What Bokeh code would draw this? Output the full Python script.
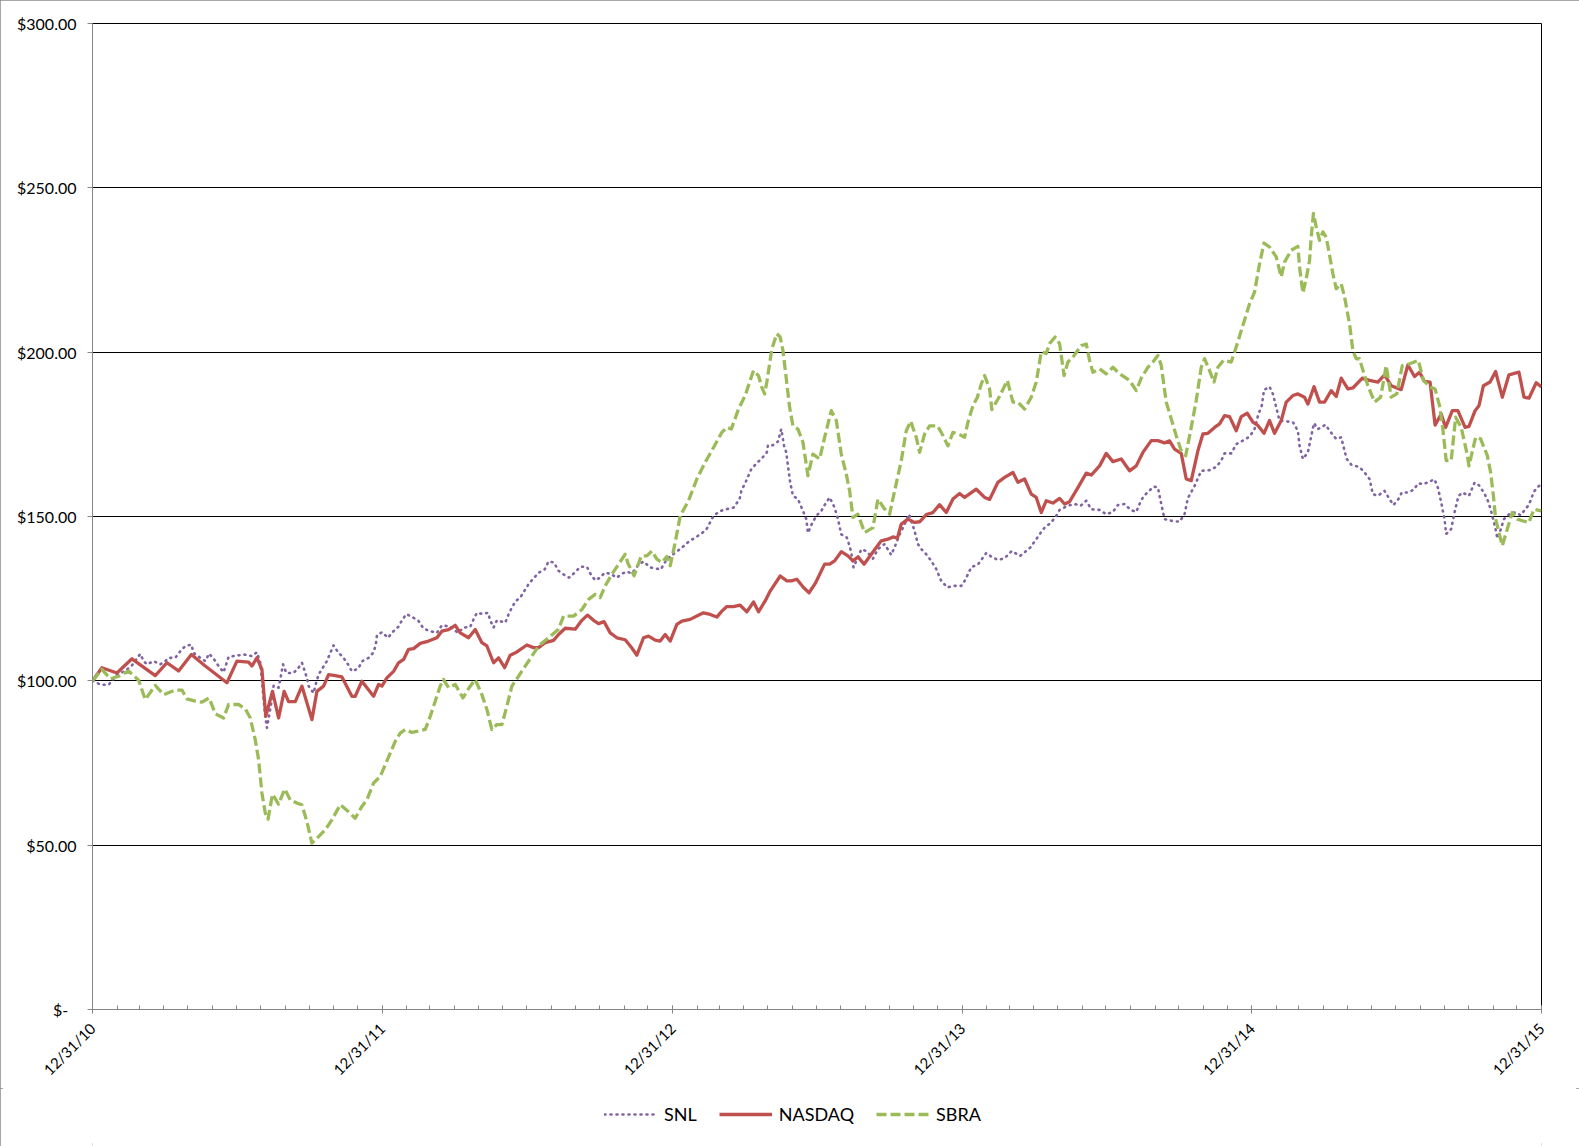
import numpy as np
import pandas as pd
from math import pi
from bokeh.plotting import figure
from bokeh.layouts import column
from bokeh.models import (Range1d, FixedTicker, DatetimeTickFormatter, Legend,
                          LegendItem, ColumnDataSource)
from bokeh.embed import file_html
from bokeh.resources import INLINE

START = "2010-12-31"

# ---- data (week = weeks after 12/31/10, value in $) ----
snl_week = [0, 1.5, 2.9, 4.4, 5.9, 7.1, 8.6, 9.2, 9.8, 11, 12.2, 13.1, 13.7, 14.9, 15.8, 16.7, 17.8, 18.2,
            19.4, 20.3, 21, 21.9, 22.7, 23.6, 24.5, 26, 27.4, 28.7, 29.6, 30.2, 31.1, 31.4, 32.3, 32.6, 33.5,
            33.8, 34.3, 34.9, 36.2, 37.1, 37.7, 38.2, 38.6, 38.9, 39.8, 40.1, 40.7, 42.2, 42.8, 43.4, 44.2,
            45.2, 46, 46.7, 47.8, 48.6, 49.7, 50.6, 51, 51.2, 52.1, 53.2, 54, 55.1, 55.7, 56.5, 57.5, 58.7,
            59.6, 60.8, 62, 62.9, 64.4, 65.8, 66.8, 68, 68.6, 69.2, 70.1, 71.2, 71.6, 72.2, 72.8, 73.7, 74.3,
            74.9, 75.5, 76.2, 77, 77.8, 78.5, 79.4, 80.3, 81.4, 82.1, 83.1, 83.8, 84.8, 85.8, 86.8, 87.8, 89,
            89.7, 90.5, 91.4, 92.2, 93.2, 94.4, 95.3, 96.2, 97.1, 98.3, 99.2, 100.4, 102.3, 103.4, 104.9,
            106.1, 107.3, 108.5, 109.5, 110.6, 111.8, 113, 114.1, 115.4, 116.5, 116.8, 117.7, 118.6, 119.6,
            120.4, 121.4, 121.6, 122.5, 123.4, 124, 124.5, 124.9, 125.2, 125.6, 126.1, 127, 127.9, 128.5,
            128.8, 129.4, 130.3, 131.2, 131.8, 132.7, 133.6, 134.2, 134.8, 135.8, 136.3, 136.6, 137, 137.5,
            138.4, 139.3, 140.5, 141.4, 142.6, 143.8, 144.5, 145.3, 146.2, 147, 148, 148.6, 149.2, 150.1,
            151, 151.9, 152.8, 153.9, 154.9, 156.4, 157, 157.6, 158.2, 159.4, 160.9, 161.8, 163, 164.2,
            165.5, 167, 168.8, 169.9, 170.5, 171.4, 172.6, 173.5, 174.1, 175.6, 176.8, 177.9, 178.9, 179.8,
            181.3, 182.5, 183.7, 184.6, 185.8, 186.9, 187.9, 188.5, 189.1, 190, 191.1, 191.8, 192.4, 193,
            194.2, 195.7, 196.6, 197.2, 198.4, 199.6, 201.1, 202.3, 203.2, 203.8, 205, 205.9, 207.1, 208.3,
            209.2, 209.9, 210.5, 210.9, 211.9, 212.5, 213.1, 213.7, 214.6, 216.1, 217, 217.3, 217.9, 218.8,
            219.3, 219.9, 220.6, 222, 222.7, 223.9, 224.8, 225.4, 225.8, 226.6, 228.1, 229.1, 229.9, 230.5,
            231.4, 232.6, 233.5, 234.2, 235.1, 235.7, 236.8, 237.8, 238.7, 239.6, 240.5, 241.6, 242.2,
            242.8, 243.1, 243.4, 243.7, 244.6, 245.2, 245.9, 246.6, 247.8, 248.8, 249.6, 250.4, 251.1,
            251.7, 252.6, 252.9, 253.5, 254.1, 255.3, 256.2, 257.1, 258.6, 259.5, 260.4, 260.86]
snl_value = [100, 98.8, 98.8, 101.9, 103, 104.7, 108.2, 106, 105, 106, 105, 106, 107, 107, 109, 110.6, 111,
             108.5, 107, 106, 108.3, 106.5, 104.5, 102.6, 107.3, 107.7, 108, 107.5, 108.7, 105.5, 89.2, 85.7,
             94.3, 98.5, 97.9, 100.4, 105, 102.4, 102.4, 104, 105.5, 103, 100.9, 98.4, 96.3, 98.4, 101.9,
             106, 108.5, 110.8, 108.7, 107, 105, 102.9, 103.7, 106, 107, 108.7, 111, 113.8, 114.8, 113.1,
             114.8, 116.5, 118.4, 120.3, 119.5, 118.2, 115.9, 115.1, 114.6, 116.9, 116.5, 114.6, 116.2,
             116.4, 118.7, 120.7, 120.4, 120.7, 118.4, 116.2, 118.4, 118, 117.7, 120.2, 122.3, 124.3, 125.3,
             127.5, 129.4, 131.2, 132.9, 133.9, 136.3, 136, 133.6, 132.4, 131.4, 132.9, 134.7, 134.7, 132.4,
             130.6, 131.4, 132.9, 132.6, 131.4, 132.6, 133.2, 132.7, 135.3, 136.3, 134.5, 133.9, 137, 139,
             140.5, 142.3, 143.6, 144.6, 146.3, 150.2, 151.7, 152.2, 152.7, 155.3, 157.8, 160.9, 164.4,
             166.3, 167.5, 169.5, 171.7, 171.7, 172.8, 176.6, 171.5, 169.5, 165.4, 160.4, 156.3, 155.3,
             151.7, 149.2, 145, 147.4, 150.2, 151.7, 153.5, 155.8, 152.7, 149.2, 144.6, 143.6, 141, 139,
             134.5, 136.5, 140, 139.5, 137.2, 140.1, 141.6, 138.3, 141.1, 144.5, 147.6, 150.7, 145.6, 141.6,
             140.1, 138.5, 136.5, 134, 130.4, 128.4, 128.9, 128.9, 130.4, 132.4, 134.6, 135.4, 138.9, 137.8,
             136.8, 137.3, 139.5, 138, 140.5, 143.1, 144.6, 146.6, 148.2, 150.2, 152, 153.3, 153.8, 153.3,
             154.8, 152.2, 152, 150.7, 151.4, 153.5, 153.8, 152, 151.4, 153.8, 155.8, 157.5, 159.1, 158.8,
             153.8, 149.2, 148.7, 148.4, 150.7, 155.6, 159.3, 163.9, 164.1, 165.1, 167, 169.2, 169.2, 172,
             173.1, 174.3, 176.6, 181.2, 183.7, 188.5, 189.5, 187.3, 183.2, 179.2, 179, 178.7, 176.1, 171.5,
             167.5, 169.5, 173.6, 178.4, 176.6, 177.9, 176.1, 173.6, 174.1, 170, 167.5, 165.8, 165, 163.2,
             161.4, 156.8, 156.3, 157.8, 155.3, 153.5, 155.3, 157.3, 157.3, 158.1, 160.1, 159.8, 160.5,
             161.3, 158.8, 154.3, 151.7, 149.2, 144.7, 146.2, 151.2, 156.2, 157.3, 156.3, 160.3, 159.5,
             157.5, 155.3, 152.2, 146.1, 143.3, 146, 149.2, 151.1, 151.2, 150.4, 153.6, 157.6, 159.3, 159.5]

nasdaq_week = [0, 1.7, 4.4, 7.1, 11.3, 13.4, 15.5, 17.8, 20.3, 24.2, 26, 28.1, 28.7, 29.6, 30.5, 31.2, 32.4,
               33.5, 34.5, 35.3, 36.5, 37.7, 39.5, 40.4, 41.6, 42.5, 43.7, 44.9, 46.7, 47.3, 48.5, 50.6, 51.5,
               52.1, 53, 54.2, 55.1, 56, 56.9, 57.8, 59, 60.5, 62, 62.9, 64.1, 65.3, 66.2, 67.7, 68.9, 70.1,
               71, 72.2, 73.1, 74.2, 75.2, 76.4, 78.2, 79.4, 80.3, 81.5, 83, 83.9, 85.1, 86.9, 88.1, 89.1,
               90.2, 91.1, 92.1, 93.2, 94.4, 95.9, 97.1, 98, 99.2, 100.1, 101.3, 102.2, 103.1, 104, 105.2,
               106.1, 107.6, 108.8, 110, 111.2, 112.4, 113.3, 114.2, 115.4, 116.6, 117.8, 119, 119.9, 121.1,
               122, 123.8, 125, 125.8, 126.8, 128, 129, 130.2, 131.8, 132.7, 133.6, 134.8, 136, 136.9, 137.8,
               138.9, 140.2, 142, 143.2, 144.1, 144.9, 145.6, 146.8, 148, 148.9, 150.1, 151.3, 152.5, 153.7,
               154.9, 156.1, 157, 159.1, 160.6, 161.5, 163, 164.2, 165.7, 166.6, 167.8, 169, 169.9, 170.8,
               171.7, 172.9, 174.1, 175, 175.9, 177.4, 178.9, 179.8, 181.3, 182.5, 183.7, 185.2, 186.7,
               187.9, 189.1, 190.6, 191.8, 193, 193.9, 194.8, 196, 196.9, 197.8, 199, 199.9, 200.8, 202,
               202.9, 203.8, 204.7, 205.9, 206.8, 207.9, 208.9, 209.8, 210.9, 211.9, 212.8, 214, 214.9,
               216.1, 217, 218.2, 218.8, 219.9, 220.9, 221.8, 223, 223.9, 224.8, 226, 226.9, 228.6, 229.9,
               231.4, 232.6, 233.8, 235.6, 236.8, 238, 238.9, 239.8, 240.8, 241.7, 242.8, 243.6, 244.8,
               245.8, 247.1, 247.8, 248.9, 249.6, 250.4, 251.6, 252.6, 253.8, 255, 256.8, 257.7, 258.6,
               259.9, 260.86]
nasdaq_value = [100, 104, 102.4, 106.7, 101.6, 105.5, 103, 108, 104.5, 99.4, 106, 105.7, 104.5, 107, 103.5,
                89.2, 96.8, 88.7, 96.8, 93.7, 93.7, 98.4, 88.2, 96.8, 98.4, 101.9, 101.6, 101.2, 95.3, 95.3,
                99.9, 95.3, 98.9, 98.4, 100.9, 102.9, 105.5, 106.5, 109.6, 109.8, 111.4, 112.1, 113.1, 115.1,
                115.6, 116.9, 114.6, 113.1, 115.6, 111.6, 110.6, 105.5, 107, 104, 107.8, 108.8, 110.9, 110.1,
                110.1, 111.6, 112.3, 114.1, 116, 115.7, 118.4, 120, 118.4, 117.4, 118, 114.6, 113.1, 112.5,
                110, 107.8, 113.1, 113.6, 112.4, 112.1, 114.1, 112.1, 117.2, 118.2, 118.7, 119.7, 120.7,
                120.2, 119.4, 121.2, 122.6, 122.6, 123, 121, 124, 121, 124.3, 127.3, 131.9, 130.4, 130.4,
                130.9, 128.4, 126.8, 129.9, 135.5, 135.5, 136.5, 139.3, 138, 136.5, 137.7, 135.5, 138.5,
                142.6, 143.1, 143.8, 143.4, 147.7, 149.2, 148.2, 148.4, 150.6, 151.2, 153.6, 151.2, 155.3,
                157, 155.8, 158.3, 155.8, 155.2, 160.4, 161.9, 163.4, 160.4, 161.4, 156.8, 155.8, 151.2,
                154.8, 154.1, 155.5, 153.8, 154.5, 158.8, 163.2, 162.6, 165.4, 169.2, 166.7, 167.5, 163.9,
                165.4, 169.5, 173.1, 173.1, 172.4, 173, 170.5, 169.2, 161.4, 160.9, 170, 175.1, 175.3, 177.1,
                178.2, 180.7, 180.4, 176.1, 180.4, 181.4, 178.7, 177.7, 175.3, 179.2, 175.3, 179.2, 184.8,
                186.8, 187.3, 186.3, 184.2, 189.5, 184.8, 184.8, 188.3, 186.5, 192.1, 188.8, 189.1, 192.1,
                191.4, 190.9, 193.1, 189.8, 188.6, 196.1, 192.6, 193.9, 191.1, 190.9, 177.8, 181.2, 177.1,
                182.2, 182.2, 177.1, 177.4, 182.2, 183.7, 189.8, 190.9, 194.1, 186.3, 193.1, 193.9, 186.3,
                186, 190.7, 189.4]

sbra_week = [0, 1.7, 3.2, 4.7, 6.5, 8.3, 9.5, 11.3, 12.8, 14.9, 16.1, 17, 18.5, 19.7, 21, 22.1, 23.6, 24.5,
             26.3, 27.5, 28.4, 29.3, 29.9, 30.5, 31.1, 31.6, 32.4, 33.5, 34.6, 35.6, 36.8, 37.7, 38.6, 39.5,
             40.7, 41.9, 43.1, 44.6, 46, 47.3, 48.5, 49.4, 50.6, 51.8, 52.7, 53.6, 54.5, 55.4, 56.3, 57.5,
             58.7, 59.9, 60.8, 61.7, 62.6, 63.2, 64.1, 65.3, 66.7, 67.8, 68.9, 70.1, 71, 71.9, 72.8, 73.7,
             74.6, 75.5, 76.7, 77.9, 79.1, 80.3, 82.1, 83.9, 84.8, 86.6, 88.1, 89.3, 90.5, 91.4, 92.3, 93.5,
             94.7, 95.9, 96.4, 97.5, 98.8, 99.8, 100.7, 101.6, 102.5, 103.4, 104, 104.9, 105.8, 107.3,
             108.8, 110.3, 111.8, 113.3, 114.2, 115, 116.3, 117.5, 118.3, 119, 119.9, 120.5, 121, 121.4,
             122.3, 123.2, 123.8, 124.3, 124.9, 125.5, 126.1, 127, 127.9, 128.8, 129.7, 130.9, 131.8, 133,
             133.9, 134.8, 135.7, 136.3, 136.9, 137.8, 139, 140.5, 141.4, 142.5, 143.5, 144.4, 145.6, 146.5,
             147.3, 148.3, 148.9, 149.8, 150.7, 152.1, 152.8, 154, 154.9, 156.1, 157, 157.6, 158.5, 159.3,
             160, 160.6, 161.5, 161.9, 163.3, 164.7, 165.7, 166.6, 167.8, 169, 169.9, 170.8, 171.7, 172.3,
             173.3, 174.1, 174.9, 175.6, 176.5, 178, 178.9, 179.5, 180.1, 181.3, 182.5, 183.7, 184.9, 186.7,
             187.9, 188.8, 190, 190.9, 191.8, 192.4, 193.3, 194.2, 195.1, 196, 196.8, 197.8, 198.7, 199.6,
             200.2, 201.1, 201.9, 202.6, 203.6, 205, 205.9, 207.1, 208.3, 209.2, 210.1, 210.9, 211.9, 213.1,
             214, 214.6, 215.8, 217, 217.3, 217.9, 218.5, 219.1, 219.4, 219.8, 220.3, 220.9, 221.5, 222.1,
             222.7, 223.3, 223.9, 224.8, 225.4, 226.3, 226.9, 227.5, 228.1, 228.6, 229.6, 230.8, 231.9,
             232.9, 233.8, 234.8, 235.8, 237, 238.7, 239.6, 240.8, 241.7, 242.5, 243.1, 243.7, 244.6, 245.4,
             246.4, 247.4, 247.8, 249, 249.9, 251.1, 251.7, 252.2, 252.6, 253.2, 253.8, 254.7, 255.6, 256.5,
             257.4, 258.6, 259.5, 260.86]
sbra_value = [100, 103.5, 100.6, 101.4, 103, 100.2, 94.3, 98.6, 95.8, 97.2, 97.2, 94.5, 93.8, 93.5, 94.8, 90,
              88.7, 92.8, 92.8, 91.5, 88.7, 82.1, 76, 65.9, 59.8, 57.9, 65.5, 62.5, 67.1, 63.8, 62.8, 62.3,
              57.2, 50.6, 52.6, 54.7, 57.7, 62.3, 60.3, 58.2, 61.8, 63.8, 68.9, 70.9, 74.5, 78, 81.6, 84.1,
              85.2, 84.3, 84.7, 85.2, 89.2, 93.8, 98.4, 100.4, 97.9, 98.9, 94.8, 97.9, 100.4, 95.8, 91.3,
              85.2, 86.7, 86.7, 92.3, 98.4, 101.4, 104.5, 107.5, 110.6, 113.1, 115.7, 119.7, 119.7, 121.7,
              124.8, 126.3, 125.3, 128.9, 132.4, 135.5, 138.5, 135.7, 132, 138, 138, 139.5, 137, 136, 137.8,
              135, 142.1, 150.2, 154.8, 161.4, 166.5, 171, 175.6, 177.1, 176.6, 182.7, 186.8, 190.9, 194.4,
              192.8, 189.3, 187.3, 190.9, 201, 205.6, 204.6, 200.5, 191.9, 183.2, 177.6, 176.6, 172.6, 162.4,
              169, 167.5, 174.1, 182.2, 179.2, 169, 162.9, 157.8, 149.7, 150.7, 145.1, 146.6, 155.3, 152.5,
              150.7, 157.8, 167, 176.1, 179, 174.1, 169.5, 175.1, 177.6, 177.6, 175.6, 171.5, 175.6, 174.9,
              174.1, 178.7, 183.7, 186.3, 190.3, 192.9, 188.8, 182.5, 186.6, 191.4, 184.8, 184.8, 182.7,
              186.3, 190.9, 200.1, 199.6, 202.6, 204.6, 202.6, 192.9, 197, 198.5, 202, 202.5, 197.5, 193.9,
              194.9, 193.4, 195.4, 193.4, 191.4, 188.3, 192.1, 195.4, 197, 199, 196, 184.8, 179.7, 174.6,
              170, 168.5, 177.1, 185.3, 195.4, 198, 194.4, 190.9, 195.4, 197.5, 197, 201.6, 208.1, 214.7,
              218.3, 226.9, 233.2, 232, 229, 222.9, 227.4, 231, 232.2, 225.9, 218, 222.4, 227.9, 235, 242.2,
              238.1, 234, 236.6, 235, 229.5, 223.9, 219.3, 220.8, 216.8, 208.6, 200.5, 198, 198, 195.1, 189.8,
              184.8, 186.3, 195.9, 186.3, 187.3, 195.9, 196.4, 197.5, 191.4, 189.4, 188.8, 183.7, 176.6, 167,
              167, 180.2, 177.1, 169.5, 165.4, 174.1, 173.6, 168.5, 163.4, 156.3, 149.2, 145.1, 141.1, 146.2,
              151.2, 149.2, 148.7, 148.2, 152.2, 151.7]

series_names = ["SNL", "NASDAQ", "SBRA"]
year_ticks = ["2010-12-31", "2011-12-31", "2012-12-31", "2013-12-31", "2014-12-31", "2015-12-31"]
y_ticks = [0, 50, 100, 150, 200, 250, 300]
y_tick_labels = ["$-\u00a0\u00a0", "$50.00", "$100.00", "$150.00", "$200.00", "$250.00", "$300.00"]

FONT = "Lato"
STYLES = {
    "SNL": dict(line_color="#8064A2", line_width=2.6, line_dash="1 5", line_cap="round", line_join="round"),
    "NASDAQ": dict(line_color="#C0504D", line_width=3.3, line_join="round"),
    "SBRA": dict(line_color="#9BBB59", line_width=3.3, line_dash="10 4", line_join="round"),
}


def to_dt(weeks):
    return pd.Timestamp(START) + pd.to_timedelta(np.asarray(weeks, dtype=float) * 7, unit="D")


def to_ms(ts):
    return (pd.DatetimeIndex(ts).as_unit("ns").asi8 // 10**6).tolist()


x0 = pd.Timestamp(year_ticks[0])
x1 = pd.Timestamp(year_ticks[-1])

# ---------------- main chart ----------------
fig = figure(
    x_axis_type="datetime",
    width=1579, height=1088, sizing_mode="fixed",
    min_border_left=92, min_border_right=38, min_border_top=23, min_border_bottom=79,
    x_range=Range1d(x0, x1), y_range=Range1d(0, 300),
    output_backend="svg", toolbar_location=None,
    background_fill_color="white", border_fill_color="white",
)
fig.outline_line_color = "black"
fig.outline_line_width = 1

fig.xgrid.visible = False
fig.ygrid.ticker = FixedTicker(ticks=y_ticks)
fig.ygrid.grid_line_color = "black"
fig.ygrid.grid_line_width = 1

fig.yaxis.ticker = FixedTicker(ticks=y_ticks)
fig.yaxis.major_label_overrides = {t: l for t, l in zip(y_ticks, y_tick_labels)}
fig.yaxis.axis_line_color = "#868686"
fig.yaxis.major_tick_line_color = "#868686"
fig.yaxis.major_tick_in = 0
fig.yaxis.major_tick_out = 5
fig.yaxis.minor_tick_line_color = None
fig.yaxis.major_label_standoff = 11
fig.yaxis.major_label_text_font = FONT
fig.yaxis.major_label_text_font_size = "16px"
fig.yaxis.major_label_text_color = "black"

major_ms = to_ms(pd.to_datetime(year_ticks))
minor_ms = to_ms(pd.date_range(x0, x1, freq=pd.offsets.MonthEnd()))
fig.xaxis.ticker = FixedTicker(ticks=major_ms, minor_ticks=minor_ms)
fmt = "%m/%d/%y"
fig.xaxis.formatter = DatetimeTickFormatter(
    microseconds=fmt, milliseconds=fmt, seconds=fmt, minsec=fmt, minutes=fmt,
    hourmin=fmt, hours=fmt, days=fmt, months=fmt, years=fmt)
fig.xaxis.major_label_orientation = pi / 4
fig.xaxis.axis_line_color = "#868686"
fig.xaxis.major_tick_line_color = "#868686"
fig.xaxis.minor_tick_line_color = "#868686"
fig.xaxis.major_tick_in = 4
fig.xaxis.major_tick_out = 4
fig.xaxis.minor_tick_in = 4
fig.xaxis.minor_tick_out = 0
fig.xaxis.major_label_standoff = 12
fig.xaxis.major_label_text_font = FONT
fig.xaxis.major_label_text_font_size = "15px"
fig.xaxis.major_label_text_color = "black"

series = [(series_names[0], snl_week, snl_value),
          (series_names[1], nasdaq_week, nasdaq_value),
          (series_names[2], sbra_week, sbra_value)]
sources = {}
for name, wk, val in series:
    src = ColumnDataSource(dict(x=to_dt(wk), y=val))
    sources[name] = src
    fig.line("x", "y", source=src, **STYLES[name])

# ---------------- legend strip below the chart ----------------
# same series drawn into a strip whose ranges keep them out of view; only the legend shows
leg_fig = figure(
    width=1579, height=58, sizing_mode="fixed",
    min_border_left=0, min_border_right=0, min_border_top=0, min_border_bottom=0,
    x_range=Range1d(0, 1), y_range=Range1d(0, 1),
    x_axis_location=None, y_axis_location=None,
    output_backend="svg", toolbar_location=None,
    background_fill_color="white", border_fill_color="white",
)
leg_fig.outline_line_color = None
leg_fig.grid.visible = False
items = []
for name, _, _ in series:
    r = leg_fig.line("x", "y", source=sources[name], **STYLES[name])
    items.append(LegendItem(label=name, renderers=[r]))

legend = Legend(
    items=items, orientation="horizontal", location=(512, 21),
    label_text_font=FONT, label_text_font_size="18px", label_text_color="black",
    glyph_width=53, glyph_height=20, spacing=22, label_standoff=7,
    border_line_color=None, background_fill_alpha=0, margin=0, padding=3,
)
leg_fig.add_layout(legend, "center")

p = column(fig, leg_fig, spacing=0)
p.styles = {"outline": "3px solid #8a8a8a", "outline-offset": "-3px"}

open("out.html", "w").write(file_html(p, INLINE))
